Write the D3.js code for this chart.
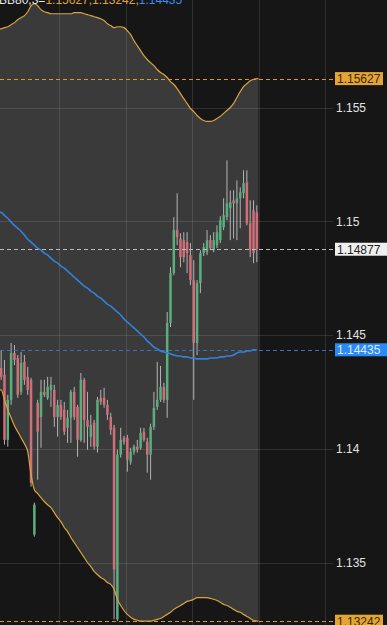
<!DOCTYPE html>
<html>
<head>
<meta charset="utf-8">
<script src="https://cdn.jsdelivr.net/npm/d3@7"></script>
<style>
  html, body { margin: 0; padding: 0; background: #161616; overflow: hidden; }
  svg { display: block; }
</style>
</head>
<body>
<script>
const W = 387, H = 625

// OHLC of the visible candles, oldest first
const opens = [1.14355, 1.14325, 1.14039, 1.14215, 1.14421, 1.14399, 1.14250, 1.14382, 1.14316, 1.14303,
  1.13623, 1.14202, 1.14140, 1.14250, 1.14224, 1.14259, 1.14259, 1.14140, 1.14193, 1.14171,
  1.14092, 1.14136, 1.14250, 1.14184, 1.14039, 1.14303, 1.14127, 1.14053, 1.14114, 1.14009,
  1.14224, 1.14224, 1.14193, 1.14140, 1.14092, 1.13250, 1.13974, 1.14048, 1.14048, 1.13943,
  1.13987, 1.14009, 1.14004, 1.14075, 1.14031, 1.13974, 1.14096, 1.14184, 1.14215, 1.14272,
  1.14215, 1.14553, 1.14772, 1.14961, 1.14925, 1.14917, 1.14908, 1.14851, 1.14741, 1.14465,
  1.14728, 1.14860, 1.14864, 1.14917, 1.14873, 1.14895, 1.14917, 1.14974, 1.15018, 1.15057,
  1.15092, 1.15079, 1.15101, 1.15123, 1.15171, 1.14991, 1.15048, 1.15039]
const highs = [1.14434, 1.14390, 1.14237, 1.14465, 1.14456, 1.14412, 1.14425, 1.14412, 1.14360, 1.14312,
  1.13763, 1.14215, 1.14303, 1.14303, 1.14316, 1.14316, 1.14281, 1.14215, 1.14215, 1.14206,
  1.14171, 1.14259, 1.14272, 1.14193, 1.14333, 1.14312, 1.14250, 1.14149, 1.14127, 1.14228,
  1.14259, 1.14268, 1.14215, 1.14158, 1.14105, 1.13996, 1.14092, 1.14057, 1.14061, 1.14004,
  1.14018, 1.14039, 1.14092, 1.14092, 1.14048, 1.14110, 1.14250, 1.14382, 1.14364, 1.14290,
  1.14601, 1.14798, 1.15018, 1.15123, 1.14947, 1.14952, 1.14952, 1.14904, 1.14829, 1.14741,
  1.14873, 1.14904, 1.14961, 1.14939, 1.14952, 1.14982, 1.15022, 1.15101, 1.15268, 1.15136,
  1.15136, 1.15180, 1.15149, 1.15224, 1.15224, 1.15092, 1.15092, 1.15070]
const lows = [1.14303, 1.14018, 1.14009, 1.14193, 1.14368, 1.14224, 1.14237, 1.14281, 1.14237, 1.13833,
  1.13614, 1.13864, 1.14004, 1.14228, 1.14215, 1.14184, 1.14096, 1.14053, 1.14127, 1.14061,
  1.14026, 1.14026, 1.14127, 1.13965, 1.14031, 1.14026, 1.13996, 1.14009, 1.13996, 1.13983,
  1.14193, 1.14180, 1.14127, 1.14061, 1.13250, 1.13242, 1.13961, 1.14018, 1.13899, 1.13930,
  1.13974, 1.13983, 1.13996, 1.14031, 1.13895, 1.13864, 1.14083, 1.14171, 1.14206, 1.14202,
  1.14136, 1.14535, 1.14763, 1.14895, 1.14798, 1.14820, 1.14772, 1.14719, 1.14215, 1.14412,
  1.14684, 1.14847, 1.14851, 1.14873, 1.14864, 1.14882, 1.14904, 1.14961, 1.15004, 1.14917,
  1.14925, 1.14917, 1.14969, 1.15101, 1.14982, 1.14842, 1.14816, 1.14820]
const closes = [1.14316, 1.14039, 1.14215, 1.14421, 1.14390, 1.14237, 1.14377, 1.14303, 1.14259, 1.13851,
  1.13754, 1.14075, 1.14250, 1.14237, 1.14272, 1.14281, 1.14140, 1.14193, 1.14140, 1.14075,
  1.14136, 1.14250, 1.14140, 1.14039, 1.14303, 1.14127, 1.14096, 1.14105, 1.14009, 1.14215,
  1.14206, 1.14193, 1.14149, 1.14083, 1.13469, 1.13974, 1.14039, 1.14031, 1.13952, 1.13987,
  1.14009, 1.13996, 1.14070, 1.14039, 1.13974, 1.14096, 1.14180, 1.14215, 1.14272, 1.14215,
  1.14553, 1.14772, 1.14961, 1.14930, 1.14842, 1.14842, 1.14860, 1.14741, 1.14465, 1.14728,
  1.14860, 1.14886, 1.14917, 1.14882, 1.14917, 1.14952, 1.15004, 1.15026, 1.15079, 1.15083,
  1.15079, 1.15101, 1.15127, 1.15167, 1.14991, 1.14873, 1.14860, 1.14877]

// Bollinger bands BB(80,3), one value per candle
const bbUpper = [1.15846, 1.15851, 1.15855, 1.15864, 1.15873, 1.15886, 1.15895, 1.15904, 1.15921, 1.15947,
  1.15956, 1.15947, 1.15930, 1.15921, 1.15917, 1.15912, 1.15912, 1.15912, 1.15912, 1.15912,
  1.15912, 1.15912, 1.15917, 1.15917, 1.15917, 1.15912, 1.15908, 1.15904, 1.15899, 1.15895,
  1.15890, 1.15882, 1.15868, 1.15860, 1.15851, 1.15855, 1.15855, 1.15851, 1.15838, 1.15820,
  1.15794, 1.15772, 1.15750, 1.15728, 1.15711, 1.15697, 1.15684, 1.15667, 1.15654, 1.15645,
  1.15632, 1.15614, 1.15601, 1.15583, 1.15561, 1.15539, 1.15518, 1.15496, 1.15482, 1.15465,
  1.15452, 1.15443, 1.15439, 1.15439, 1.15443, 1.15452, 1.15461, 1.15474, 1.15487, 1.15500,
  1.15518, 1.15544, 1.15570, 1.15592, 1.15605, 1.15618, 1.15623, 1.15627]
const bbLower = [1.14259, 1.14215, 1.14171, 1.14136, 1.14101, 1.14075, 1.14048, 1.14022, 1.13987, 1.13886,
  1.13820, 1.13803, 1.13785, 1.13768, 1.13754, 1.13741, 1.13719, 1.13697, 1.13680, 1.13654,
  1.13636, 1.13610, 1.13588, 1.13566, 1.13544, 1.13522, 1.13500, 1.13482, 1.13461, 1.13447,
  1.13434, 1.13425, 1.13412, 1.13404, 1.13382, 1.13338, 1.13311, 1.13289, 1.13272, 1.13259,
  1.13250, 1.13246, 1.13242, 1.13242, 1.13242, 1.13242, 1.13246, 1.13250, 1.13254, 1.13263,
  1.13272, 1.13281, 1.13294, 1.13303, 1.13311, 1.13320, 1.13329, 1.13333, 1.13338, 1.13346,
  1.13346, 1.13346, 1.13346, 1.13342, 1.13338, 1.13333, 1.13325, 1.13316, 1.13311, 1.13303,
  1.13294, 1.13285, 1.13281, 1.13272, 1.13263, 1.13254, 1.13246, 1.13242]
const bbMiddle = [1.15039, 1.15026, 1.15013, 1.14996, 1.14982, 1.14969, 1.14956, 1.14939, 1.14921, 1.14908,
  1.14895, 1.14882, 1.14873, 1.14860, 1.14851, 1.14838, 1.14825, 1.14816, 1.14803, 1.14794,
  1.14781, 1.14768, 1.14754, 1.14741, 1.14728, 1.14715, 1.14706, 1.14693, 1.14684, 1.14671,
  1.14662, 1.14649, 1.14636, 1.14627, 1.14614, 1.14601, 1.14588, 1.14570, 1.14557, 1.14544,
  1.14531, 1.14518, 1.14504, 1.14491, 1.14474, 1.14461, 1.14447, 1.14439, 1.14430, 1.14425,
  1.14421, 1.14417, 1.14412, 1.14408, 1.14408, 1.14404, 1.14404, 1.14399, 1.14399, 1.14395,
  1.14395, 1.14395, 1.14395, 1.14399, 1.14399, 1.14399, 1.14404, 1.14404, 1.14408, 1.14408,
  1.14412, 1.14421, 1.14425, 1.14425, 1.14430, 1.14430, 1.14435, 1.14435]

const priceTicks = [1.135, 1.14, 1.145, 1.15, 1.155]
const timeGrid = [17.5, 37.5, 57.5, 77.5, 97.5] // candle positions of the time grid lines

const n = closes.length
const candles = d3.range(n).map(i => ({
    i, open: opens[i], high: highs[i], low: lows[i], close: closes[i],
    upper: bbUpper[i], lower: bbLower[i], middle: bbMiddle[i],
}))
const last = candles[n - 1]

const plotRight = 333

const x = d3.scaleLinear().domain([-0.5, n - 0.5]).range([-0.5, 258.5])
const step = x(1) - x(0)
const y = d3.scaleLinear().domain([1.135, 1.155]).range([562.5, 107.5])

const svg = d3.select('body').append('svg')
    .attr('width', W)
    .attr('height', H)
    .attr('viewBox', [0, 0, W, H])

svg.append('rect')
    .attr('width', W).attr('height', H)
    .attr('fill', '#161616')

// band fill, stretched to the outer edges of the first and last candle
const bandPts = [{...candles[0], xp: x(-0.5)}]
    .concat(candles.map(d => ({...d, xp: x(d.i)})))
    .concat([{...last, xp: x(n - 0.5)}])

svg.append('path')
    .datum(bandPts)
    .attr('fill', '#3a3a3a')
    .attr('d', d3.area()
        .curve(d3.curveMonotoneX)
        .x(d => d.xp)
        .y0(d => y(d.lower))
        .y1(d => y(d.upper)))

// grid
const grid = svg.append('g')
    .attr('stroke', 'rgba(255,255,255,0.11)')
    .attr('stroke-width', 1)
grid.selectAll('.h')
    .data(priceTicks)
    .join('line')
        .attr('x1', 0).attr('x2', plotRight)
        .attr('y1', d => Math.round(y(d)) + 0.5)
        .attr('y2', d => Math.round(y(d)) + 0.5)
grid.selectAll('.v')
    .data(timeGrid)
    .join('line')
        .attr('y1', 0).attr('y2', H)
        .attr('x1', d => Math.round(x(d)) + 0.5)
        .attr('x2', d => Math.round(x(d)) + 0.5)

// candles
const candleG = svg.append('g')
candleG.selectAll('line')
    .data(candles)
    .join('line')
        .attr('x1', d => x(d.i))
        .attr('x2', d => x(d.i))
        .attr('y1', d => y(d.high))
        .attr('y2', d => y(d.low))
        .attr('stroke', '#b4b4b4')
        .attr('stroke-width', 1)
candleG.selectAll('rect')
    .data(candles)
    .join('rect')
        .attr('x', d => x(d.i) - step * 0.38)
        .attr('width', step * 0.76)
        .attr('y', d => y(Math.max(d.open, d.close)))
        .attr('height', d => Math.max(1, Math.abs(y(d.open) - y(d.close))))
        .attr('fill', d => d.close >= d.open ? '#5aae7e' : '#cf6f79')

// last value markers
const markers = [
    {value: last.upper, line: '#d79a33', fill: '#e5a534', text: '#3a2808', w: 48},
    {value: last.close, line: '#bdbdbd', fill: '#efefef', text: '#222222', w: 52},
    {value: last.middle, line: '#3c70b2', fill: '#2b8bf2', text: '#dcebff', w: 52},
    {value: last.lower, line: '#d79a33', fill: '#e5a534', text: '#3a2808', w: 48},
]

svg.append('g')
    .attr('stroke-width', 1)
    .attr('stroke-dasharray', '4,3')
    .selectAll('line')
    .data(markers)
    .join('line')
        .attr('x1', 0).attr('x2', plotRight)
        .attr('y1', d => Math.round(y(d.value)) + 0.5)
        .attr('y2', d => Math.round(y(d.value)) + 0.5)
        .attr('stroke', d => d.line)

// bands
const line = acc => d3.line()
    .curve(d3.curveMonotoneX)
    .x(d => d.xp)
    .y(d => y(acc(d)))

const bands = svg.append('g').attr('fill', 'none')
bands.append('path').datum(bandPts)
    .attr('stroke', '#d9a43f').attr('stroke-width', 1.2)
    .attr('d', line(d => d.upper))
bands.append('path').datum(bandPts)
    .attr('stroke', '#d9a43f').attr('stroke-width', 1.2)
    .attr('d', line(d => d.lower))
bands.append('path').datum(bandPts.slice(0, -1))
    .attr('stroke', '#3480da').attr('stroke-width', 1.6)
    .attr('d', line(d => d.middle))

// right price axis
const fmt = d3.format('.5f')
svg.append('g')
        .attr('font-family', '"Liberation Sans", Arial, sans-serif')
        .attr('font-size', 12)
        .attr('fill', '#e2e2e2')
    .selectAll('text')
    .data(priceTicks)
    .join('text')
        .attr('x', 336)
        .attr('y', d => y(d))
        .attr('dy', '0.36em')
        .text(d => d3.format('')(d))

const tag = svg.append('g')
        .attr('font-family', '"Liberation Sans", Arial, sans-serif')
        .attr('font-size', 12)
    .selectAll('g')
    .data(markers)
    .join('g')
        .attr('transform', d => `translate(335,${y(d.value)})`)
tag.append('rect')
    .attr('x', 0).attr('y', -6.5)
    .attr('width', d => d.w).attr('height', 13)
    .attr('fill', d => d.fill)
tag.append('text')
    .attr('x', 2)
    .attr('dy', '0.36em')
    .attr('fill', d => d.text)
    .text(d => fmt(d.value))

// indicator legend, cut by the top edge
const legend = svg.append('text')
    .attr('x', -1)
    .attr('y', 4)
    .attr('font-family', '"Liberation Sans", Arial, sans-serif')
    .attr('font-size', 12)
legend.append('tspan').attr('fill', '#e6e6e6').text('BB80,3=')
legend.append('tspan').attr('fill', '#e0a23c').text(`${fmt(last.upper)},${fmt(last.lower)},`)
legend.append('tspan').attr('fill', '#3b8ef0').text(fmt(last.middle))
</script>
</body>
</html>
